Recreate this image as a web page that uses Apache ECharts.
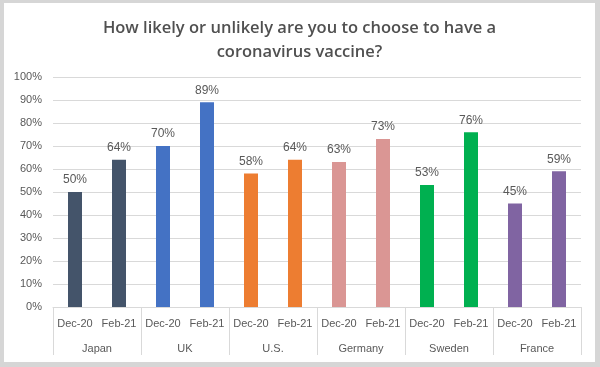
<!DOCTYPE html>
<html>
<head>
<meta charset="utf-8">
<script src="https://cdn.jsdelivr.net/npm/echarts@6/dist/echarts.min.js"></script>
<style>
html,body{margin:0;padding:0;background:#d6d6d6;width:600px;height:367px;overflow:hidden;}
#c{position:absolute;left:4px;top:3px;width:591px;height:359px;background:#ffffff;}
</style>
</head>
<body>
<div id="c"></div>
<script>
const countries = ['Japan', 'UK', 'U.S.', 'Germany', 'Sweden', 'France'];
const periods = ['Dec-20', 'Feb-21'];
const dec20 = [50, 70, 58, 63, 53, 45];
const feb21 = [64, 89, 64, 73, 76, 59];
const colors = ['#44546A', '#4472C4', '#ED7D31', '#DA9694', '#00B050', '#8064A2'];
const yTicks = [0, 10, 20, 30, 40, 50, 60, 70, 80, 90, 100];

const cats = [];
const data = [];
countries.forEach((c, i) => {
  cats.push(periods[0], periods[1]);
  data.push({ value: dec20[i], itemStyle: { color: colors[i] } });
  data.push({ value: feb21[i], itemStyle: { color: colors[i] } });
});

const font = '"Liberation Sans", Arial, sans-serif';
const chart = echarts.init(document.getElementById('c'));
chart.setOption({
  animation: false,
  title: {
    text: 'How likely or unlikely are you to choose to have a\ncoronavirus vaccine?',
    left: 'center',
    top: 8,
    textStyle: { fontFamily: '"Open Sans", sans-serif', fontSize: 16.5, fontWeight: 600, color: '#505050', lineHeight: 24 }
  },
  grid: { left: 49, right: 14, top: 74, bottom: 55 },
  xAxis: [
    {
      type: 'category', data: cats, position: 'bottom',
      axisLine: { show: true, lineStyle: { color: '#D9D9D9' } },
      axisTick: { show: false },
      axisLabel: { interval: 0, margin: 11, color: '#595959', fontFamily: font, fontSize: 11 }
    },
    {
      type: 'category', data: countries, position: 'bottom',
      axisLine: { show: false },
      axisTick: { show: true, length: 48, lineStyle: { color: '#D9D9D9' } },
      axisLabel: { interval: 0, margin: 36, color: '#595959', fontFamily: font, fontSize: 11 }
    }
  ],
  yAxis: {
    type: 'value', min: yTicks[0], max: yTicks[yTicks.length - 1], interval: 10,
    axisLine: { show: false }, axisTick: { show: false },
    splitLine: { lineStyle: { color: '#D9D9D9' } },
    axisLabel: { formatter: '{value}%', color: '#595959', fontFamily: font, fontSize: 11, margin: 11 }
  },
  series: [{
    type: 'bar', xAxisIndex: 0, data: data, barWidth: 14,
    label: { show: true, position: 'top', distance: 6, formatter: '{c}%', color: '#595959', fontFamily: font, fontSize: 12 }
  }]
});
</script>
</body>
</html>
